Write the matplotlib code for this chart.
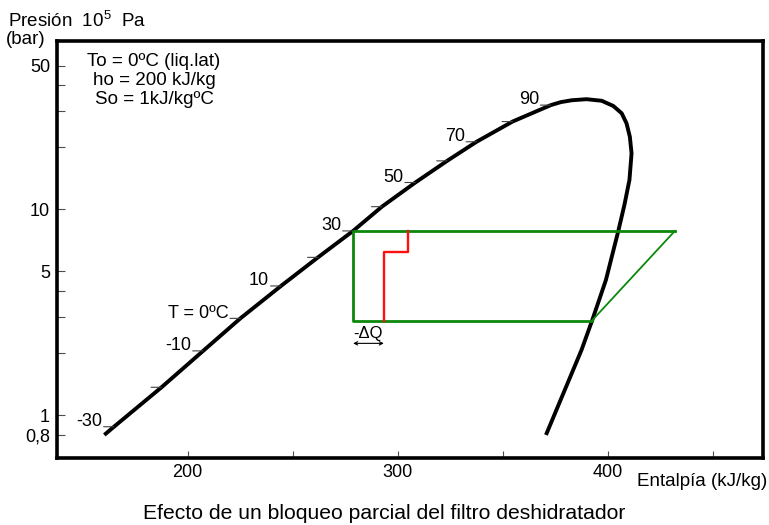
import matplotlib
matplotlib.use("Agg")
import matplotlib.pyplot as plt
from matplotlib.ticker import NullFormatter

plt.rcParams['font.family'] = ['Liberation Sans', 'DejaVu Sans']
plt.rcParams['mathtext.fontset'] = 'custom'
plt.rcParams['mathtext.rm'] = 'Liberation Sans'
plt.rcParams['mathtext.it'] = 'Liberation Sans'

# saturated liquid line, one point per temperature mark (ºC)
liq_T = [-30, -20, -10, 0, 10, 20, 30, 40, 50, 60, 70, 80, 90]
liq_h = [165.0, 187.6, 207.4, 225.1, 244.4, 262.0, 278.7, 292.4, 308.3, 323.4, 337.4, 354.5, 372.7]
liq_P = [0.877, 1.364, 2.05, 2.95, 4.24, 5.84, 7.85, 10.3, 13.5, 17.2, 21.3, 26.7, 32.1]
liq_labels = ['-30', '', '-10', 'T = 0ºC', '10', '', '30', '', '50', '', '70', '', '90']

# lower end of the liquid line
start_h = 160.4
start_P = 0.80

# top of the dome and saturated vapour line
vap_h = [377.5, 382.7, 389.7, 396.9, 402.4, 406.4, 408.7, 410.3, 411.1, 410.1, 407.7, 404.8, 398.9, 392.4, 387.3, 370.4]
vap_P = [33.2, 33.9, 34.3, 33.7, 31.8, 29.3, 26.2, 22.5, 18.7, 13.9, 10.5, 7.85, 4.53, 2.89, 2.07, 0.80]

# refrigeration cycle (green)
cycle_h = [392.3, 278.7, 278.7, 431.7, 392.3]
cycle_P = [2.88, 2.88, 7.85, 7.85, 2.88]

# expansion with partially blocked filter (red)
block_h = [304.6, 304.6, 293.3, 293.3]
block_P = [7.85, 6.18, 6.18, 2.88]

# -dQ arrow
dq_h = [278.7, 293.3]
dq_P = 2.23

fig = plt.figure(figsize=(7.69, 5.25), dpi=100)
ax = fig.add_axes([57 / 769, 1 - 458 / 525, (763 - 57) / 769, (458 - 41) / 525])

ax.set_yscale('log')
ax.set_xlim(137.9, 473.6)
ax.set_ylim(0.618, 65.8)

# saturation dome
dome_h = [start_h] + liq_h + vap_h
dome_P = [start_P] + liq_P + vap_P
ax.plot(dome_h, dome_P, color='black', lw=2.8, solid_capstyle='butt', solid_joinstyle='round')

# temperature marks along the liquid line
for t, h, p, lab in zip(liq_T, liq_h, liq_P, liq_labels):
    ax.annotate('', xy=(h, p), xytext=(-7.5, 0), textcoords='offset points',
                arrowprops=dict(arrowstyle='-', lw=0.8, color='0.25', shrinkA=0, shrinkB=0))
    if lab:
        ax.annotate(lab, xy=(h, p), xytext=(-8.5, 0.5), textcoords='offset points',
                    ha='right', va='baseline', fontsize=13)

# cycle
ax.plot(cycle_h[:4], cycle_P[:4], color='#0b870b', lw=2.0)
ax.plot(cycle_h[3:], cycle_P[3:], color='#0b870b', lw=1.3)
ax.plot(block_h, block_P, color='#ff1010', lw=1.7)

ax.annotate('', xy=(dq_h[0], dq_P), xytext=(dq_h[1], dq_P),
            arrowprops=dict(arrowstyle='<->', lw=0.8, color='black',
                            shrinkA=0, shrinkB=0, mutation_scale=6))
ax.text(sum(dq_h) / 2, 2.48, '-ΔQ', ha='center', va='center', fontsize=12)

# axes styling
for s in ax.spines.values():
    s.set_linewidth(2.6)

ax.set_xticks([200, 250, 300, 350, 400, 450])
ax.set_xticklabels(['200', '', '300', '', '400', ''])
ax.set_yticks([0.8, 1, 5, 10, 50])
ax.set_yticklabels(['0,8', '1', '5', '10', '50'])
ax.set_yticks([2, 3, 4, 20, 30, 40], minor=True)
ax.yaxis.set_minor_formatter(NullFormatter())
ax.tick_params(axis='both', which='both', direction='in', width=0.8, color='0.3', labelsize=13)
ax.tick_params(axis='x', length=5, pad=4)
ax.tick_params(axis='y', which='both', length=6, pad=5)

# titles and notes
fig.text(8 / 769, 1 - 27 / 525, 'Presión  10$^5$  Pa', fontsize=13.5, va='baseline')
fig.text(6 / 769, 1 - 44 / 525, '(bar)', fontsize=13.5, va='baseline')
fig.text(767 / 769, 1 - 486 / 525, 'Entalpía (kJ/kg)', fontsize=13.5, ha='right', va='baseline')
fig.text(0.5, 1 - 519 / 525, 'Efecto de un bloqueo parcial del filtro deshidratador',
         fontsize=15.2, ha='center', va='baseline')

for txt, y in zip(['To = 0ºC (liq.lat)', 'ho = 200 kJ/kg', 'So = 1kJ/kgºC'], [66, 85, 104]):
    fig.text(154 / 769, 1 - y / 525, txt, fontsize=13.5, ha='center', va='baseline')

fig.savefig('out.png', dpi=100)
